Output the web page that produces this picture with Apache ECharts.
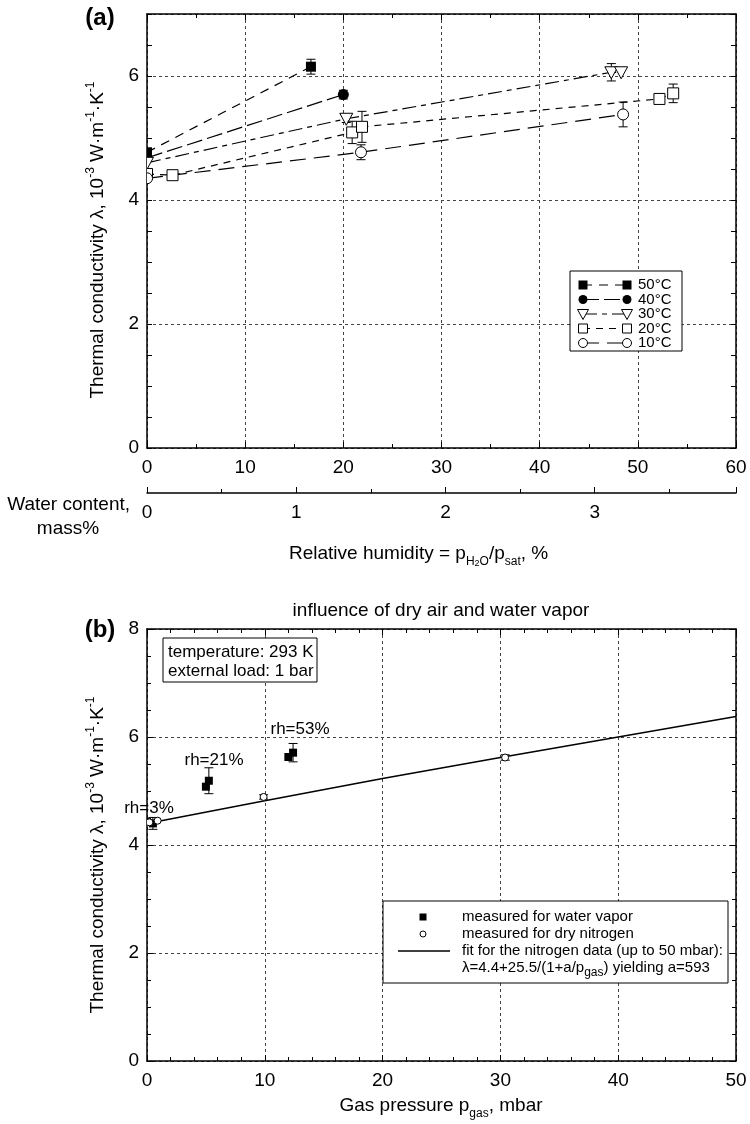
<!DOCTYPE html>
<html>
<head>
<meta charset="utf-8">
<script src="https://cdn.jsdelivr.net/npm/echarts@6/dist/echarts.min.js"></script>
<style>
html,body{margin:0;padding:0;background:#fff}
#chart{width:750px;height:1124px}
</style>
</head>
<body>
<div id="chart"></div>
<script>
// ---- panel (a): relative humidity (%) vs conductivity (1e-3 W/m/K)
var rh50 = [0, 16.7];
var lam50 = [4.77, 6.15];
var err50 = [0, 0.12];

var rh40 = [0, 20.0];
var lam40 = [4.68, 5.70];
var err40 = [0, 0.07];

var rh30 = [0, 20.3, 47.3, 48.3];
var lam30 = [4.60, 5.31, 6.06, 6.06];
var err30 = [0, 0.06, 0.14, 0];

var rh20 = [0, 2.6, 20.9, 21.9, 52.2, 53.6];
var lam20 = [4.42, 4.40, 5.09, 5.18, 5.63, 5.72];
var err20 = [0, 0, 0.18, 0.25, 0, 0.15];

var rh10 = [0, 21.8, 48.5];
var lam10 = [4.35, 4.77, 5.38];
var err10 = [0, 0.12, 0.20];

var tempNames = ['50°C', '40°C', '30°C', '20°C', '10°C'];
var waterContentMax = 3.947; // mass% at 60 % rh

// ---- panel (b): gas pressure (mbar)
var pVapor = [0.5, 5.0, 5.25, 12.0, 12.4];
var lamVapor = [4.40, 5.08, 5.19, 5.63, 5.71];
var errVapor = [0.11, 0, 0.24, 0, 0.17];

var pN2 = [0.2, 0.9, 9.9, 30.4];
var lamN2 = [4.42, 4.45, 4.89, 5.62];
var errN2 = [0, 0, 0.04, 0.05];

var pFit = [0, 10, 20, 30, 40, 50];
var lamFit = [4.40, 4.82, 5.23, 5.62, 6.00, 6.38];

var FONT = '"Liberation Sans", Arial, Helvetica, sans-serif';
var BLACK = '#000';

function zip(a, b, c) {
  return a.map(function (v, i) { return c ? [v, b[i], c[i]] : [v, b[i]]; });
}

function symbolShape(kind, x, y, s) {
  var h = s / 2;
  if (kind === 'sqFill') return {type: 'rect', shape: {x: x - h, y: y - h, width: s, height: s}, style: {fill: BLACK}};
  if (kind === 'sqOpen') return {type: 'rect', shape: {x: x - h, y: y - h, width: s, height: s}, style: {fill: '#fff', stroke: BLACK, lineWidth: 1}};
  if (kind === 'dot') return {type: 'circle', shape: {cx: x, cy: y, r: h}, style: {fill: BLACK}};
  if (kind === 'ring') return {type: 'circle', shape: {cx: x, cy: y, r: h}, style: {fill: '#fff', stroke: BLACK, lineWidth: 1}};
  // open triangle pointing down
  return {type: 'polygon', shape: {points: [[x - h - 1, y - h], [x + h + 1, y - h], [x, y + h + 1]]}, style: {fill: '#fff', stroke: BLACK, lineWidth: 1}};
}

function markerRender(kind, size) {
  return function (params, api) {
    var x = api.value(0), y = api.value(1), e = api.value(2);
    var p = api.coord([x, y]);
    var kids = [];
    if (e > 0) {
      var t = api.coord([x, y + e])[1], b = api.coord([x, y - e])[1];
      var ls = {stroke: BLACK, lineWidth: 1};
      kids.push({type: 'line', shape: {x1: p[0], y1: t, x2: p[0], y2: b}, style: ls});
      kids.push({type: 'line', shape: {x1: p[0] - 4.5, y1: t, x2: p[0] + 4.5, y2: t}, style: ls});
      kids.push({type: 'line', shape: {x1: p[0] - 4.5, y1: b, x2: p[0] + 4.5, y2: b}, style: ls});
    }
    kids.push(symbolShape(kind, p[0], p[1], size));
    return {type: 'group', children: kids};
  };
}

function markers(xs, ys, es, kind, size, gi) {
  return {
    type: 'custom', xAxisIndex: gi === 0 ? 0 : 3, yAxisIndex: gi === 0 ? 0 : 3,
    data: zip(xs, ys, es), clip: true, z: 4,
    renderItem: markerRender(kind, size)
  };
}

function fitLine(xs, ys, dash, gi, w) {
  return {
    type: 'line', xAxisIndex: gi === 0 ? 0 : 3, yAxisIndex: gi === 0 ? 0 : 3,
    data: zip(xs, ys), showSymbol: false, symbol: 'none', z: 3,
    lineStyle: {color: BLACK, width: w || 1.2, type: dash}
  };
}

var gridLine = {show: true, lineStyle: {color: '#444', width: 1, type: [3, 3]}};
var axLine = {show: true, onZero: false, lineStyle: {color: BLACK, width: 1.5}};
var tickIn = {show: true, inside: true, length: 6, lineStyle: {color: BLACK, width: 1}};
var minorIn = function (n) { return {show: true, splitNumber: n, length: 4, lineStyle: {color: BLACK, width: 1}}; };
var lab = {color: BLACK, fontSize: 19, fontFamily: FONT, margin: 10};
var noLab = {show: false};

var dashes = [[9, 7], [16, 5], [14, 5, 5, 5], [7, 6], [16, 8]];
var kinds = ['sqFill', 'dot', 'triDown', 'sqOpen', 'ring'];

// legend of panel (a), drawn as graphic elements
var legA = [{type: 'rect', z: 100, shape: {x: 570, y: 271, width: 112, height: 80}, style: {fill: '#fff', stroke: BLACK, lineWidth: 1}}];
tempNames.forEach(function (n, i) {
  var y = 285 + i * 14.5;
  legA.push({type: 'line', z: 101, shape: {x1: 583, y1: y, x2: 627, y2: y}, style: {stroke: BLACK, lineWidth: 1, lineDash: dashes[i]}});
  var s1 = symbolShape(kinds[i], 583, y, 9); s1.z = 102; legA.push(s1);
  var s2 = symbolShape(kinds[i], 627, y, 9); s2.z = 102; legA.push(s2);
  legA.push({type: 'text', z: 102, x: 638, y: y, style: {text: n, fill: BLACK, fontSize: 15, fontFamily: FONT, align: 'left', verticalAlign: 'middle'}});
});

var supRich = {
  sup: {fontSize: 12, lineHeight: 12, verticalAlign: 'top', fontFamily: FONT, fill: BLACK},
  sub: {fontSize: 12, lineHeight: 12, verticalAlign: 'bottom', fontFamily: FONT, fill: BLACK},
  sub2: {fontSize: 9, lineHeight: 9, verticalAlign: 'bottom', fontFamily: FONT, fill: BLACK}
};
var yTitle = 'Thermal conductivity λ, 10{sup|-3} W·m{sup|-1}·K{sup|-1}';

function txt(x, y, text, size, opts) {
  var o = opts || {};
  return {
    type: 'text', z: 110, x: x, y: y, rotation: o.rot || 0,
    style: {
      text: text, fill: BLACK, fontSize: size, fontFamily: FONT, fontWeight: o.bold ? 'bold' : 'normal',
      align: o.align || 'center', verticalAlign: 'middle', lineHeight: o.lh || size + 6, rich: supRich
    }
  };
}

var graphics = [
  txt(100, 18, '(a)', 24, {bold: true}),
  txt(98, 240, yTitle, 19, {rot: Math.PI / 2, lh: 26}),
  txt(130, 505, 'Water content,', 19, {align: 'right'}),
  txt(68, 529, 'mass%', 19),
  txt(289, 554, 'Relative humidity = p{sub|H}{sub2|2}{sub|O}/p{sub|sat}, %', 19, {align: 'left', lh: 28}),
  txt(441, 611, 'influence of dry air and water vapor', 19),
  txt(100, 630, '(b)', 24, {bold: true}),
  txt(98, 855, yTitle, 19, {rot: Math.PI / 2, lh: 26}),
  txt(441, 1106, 'Gas pressure p{sub|gas}, mbar', 19, {lh: 28}),
  {type: 'rect', z: 100, shape: {x: 163, y: 638, width: 154, height: 44}, style: {fill: '#fff', stroke: BLACK, lineWidth: 1}},
  txt(168, 652, 'temperature: 293 K', 17, {align: 'left'}),
  txt(168, 671, 'external load: 1 bar', 17, {align: 'left'}),
  txt(300, 729, 'rh=53%', 17),
  txt(214, 760, 'rh=21%', 17),
  txt(149, 808, 'rh=3%', 17),
  // legend of panel (b)
  {type: 'rect', z: 100, shape: {x: 383, y: 901, width: 345, height: 82}, style: {fill: '#fff', stroke: BLACK, lineWidth: 1}},
  Object.assign(symbolShape('sqFill', 423, 917, 7), {z: 102}),
  Object.assign(symbolShape('ring', 423, 934, 6), {z: 102}),
  {type: 'line', z: 102, shape: {x1: 398, y1: 951, x2: 450, y2: 951}, style: {stroke: BLACK, lineWidth: 1.5}},
  txt(462, 917, 'measured for water vapor', 15, {align: 'left'}),
  txt(462, 934, 'measured for dry nitrogen', 15, {align: 'left'}),
  txt(462, 951, 'fit for the nitrogen data (up to 50 mbar):', 15, {align: 'left'}),
  txt(462, 968, 'λ=4.4+25.5/(1+a/p{sub|gas}) yielding a=593', 15, {align: 'left', lh: 22})
].concat(legA);

var series = [];
var rhs = [rh50, rh40, rh30, rh20, rh10];
var lams = [lam50, lam40, lam30, lam20, lam10];
var errs = [err50, err40, err30, err20, err10];
var sizes = [10, 11, 11, 11, 11];
for (var i = 0; i < 5; i++) series.push(fitLine(rhs[i], lams[i], dashes[i], 0));
for (var j = 0; j < 5; j++) series.push(markers(rhs[j], lams[j], errs[j], kinds[j], sizes[j], 0));
series.push(fitLine(pFit, lamFit, 'solid', 1, 1.5));
series.push(markers(pVapor, lamVapor, errVapor, 'sqFill', 8, 1));
series.push(markers(pN2, lamN2, errN2, 'ring', 7, 1));

var option = {
  animation: false,
  backgroundColor: '#fff',
  textStyle: {fontFamily: FONT},
  grid: [
    {left: 147, top: 14, width: 589, height: 434},
    {left: 147, top: 629, width: 589, height: 432}
  ],
  xAxis: [
    {gridIndex: 0, type: 'value', position: 'bottom', min: 0, max: 60, interval: 10, axisLine: axLine, axisTick: tickIn, minorTick: minorIn(2), axisLabel: lab, splitLine: gridLine},
    {gridIndex: 0, type: 'value', position: 'top', min: 0, max: 60, interval: 10, axisLine: axLine, axisTick: tickIn, minorTick: minorIn(2), axisLabel: noLab, splitLine: {show: false}},
    {gridIndex: 0, type: 'value', position: 'bottom', offset: 45, min: 0, max: waterContentMax, interval: 1, axisLine: axLine, axisTick: tickIn, minorTick: minorIn(2),
      axisLabel: Object.assign({}, lab, {formatter: function (v) { return Math.abs(v - Math.round(v)) < 1e-6 ? String(Math.round(v)) : ''; }}), splitLine: {show: false}},
    {gridIndex: 1, type: 'value', position: 'bottom', min: 0, max: 50, interval: 10, axisLine: axLine, axisTick: tickIn, minorTick: minorIn(5), axisLabel: lab, splitLine: gridLine},
    {gridIndex: 1, type: 'value', position: 'top', min: 0, max: 50, interval: 10, axisLine: axLine, axisTick: tickIn, minorTick: minorIn(5), axisLabel: noLab, splitLine: {show: false}}
  ],
  yAxis: [
    {gridIndex: 0, type: 'value', position: 'left', min: 0, max: 7, interval: 2, axisLine: axLine, axisTick: {show: false},
      axisLabel: Object.assign({}, lab, {margin: 8, formatter: function (v) { return v < 7 ? String(v) : ''; }}), splitLine: gridLine},
    {gridIndex: 0, type: 'value', position: 'left', min: 0, max: 7, interval: 0.5, axisLine: {show: false}, axisTick: {show: true, inside: true, length: 5, lineStyle: {color: BLACK}}, axisLabel: noLab, splitLine: {show: false}},
    {gridIndex: 0, type: 'value', position: 'right', min: 0, max: 7, interval: 0.5, axisLine: axLine, axisTick: {show: true, inside: true, length: 5, lineStyle: {color: BLACK}}, axisLabel: noLab, splitLine: {show: false}},
    {gridIndex: 1, type: 'value', position: 'left', min: 0, max: 8, interval: 2, axisLine: axLine, axisTick: tickIn, minorTick: minorIn(4), axisLabel: Object.assign({}, lab, {margin: 8}), splitLine: gridLine},
    {gridIndex: 1, type: 'value', position: 'right', min: 0, max: 8, interval: 2, axisLine: axLine, axisTick: tickIn, minorTick: minorIn(4), axisLabel: noLab, splitLine: {show: false}}
  ],
  series: series,
  graphic: {elements: graphics}
};

var chart = echarts.init(document.getElementById('chart'), null, {renderer: 'canvas'});
chart.setOption(option);
</script>
</body>
</html>
